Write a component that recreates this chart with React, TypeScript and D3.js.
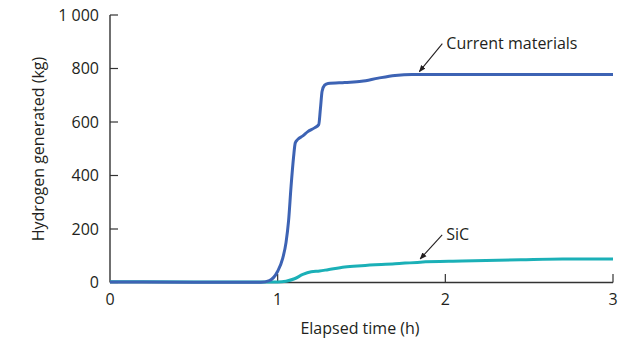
import React from "react";
import { scaleLinear, line, curveMonotoneX } from "d3";

const currentT = [0, 0.5, 0.9, 0.95, 1.0, 1.03, 1.05, 1.065, 1.08, 1.095, 1.105, 1.12, 1.15, 1.18, 1.22, 1.245, 1.255, 1.265, 1.28, 1.3, 1.4, 1.5, 1.6, 1.7, 1.8, 2.0, 2.5, 3.0];
const currentV = [2, 1, 1, 7, 42, 90, 150, 230, 360, 470, 522, 535, 548, 564, 578, 590, 650, 715, 738, 744, 748, 752, 764, 774, 778, 778, 778, 778];

const sicT = [0, 0.5, 1.0, 1.05, 1.1, 1.15, 1.2, 1.25, 1.3, 1.4, 1.5, 1.7, 1.85, 2.1, 2.45, 2.7, 3.0];
const sicV = [3, 2, 2, 5, 14, 30, 40, 43, 48, 58, 63, 70, 76, 80, 85, 88, 88];

const xTicks = [0, 1, 2, 3];
const yTicks = [0, 200, 400, 600, 800, 1000];
const yTickLabels = ["0", "200", "400", "600", "800", "1 000"];

// arrow tip sits on the curve at (t, v); tail is offset in pixels
const labels = [
  { text: "Current materials", t: 1.845, v: 788, dx: 23, dy: -28 },
  { text: "SiC", t: 1.85, v: 88, dx: 22, dy: -24 },
];

const W = 637;
const H = 340;
const margin = { left: 110, right: 24, top: 15, bottom: 57.5 };
const font = "'Open Sans', sans-serif";
const ink = "#231f20";

export default function App() {
  const x = scaleLinear().domain([0, 3]).range([margin.left, W - margin.right]);
  const y = scaleLinear().domain([0, 1000]).range([H - margin.bottom, margin.top]);
  const mk = (ts: number[], vs: number[]) =>
    line<number>()
      .x((t) => x(t))
      .y((_, i) => y(vs[i]))
      .curve(curveMonotoneX)(ts) || "";

  return (
    <svg width={W} height={H} style={{ position: "absolute", left: 0, top: 0 }} fontFamily={font}>
      <defs>
        <marker id="ah" viewBox="0 0 10 10" refX="9" refY="5" markerWidth="7" markerHeight="7" orient="auto" markerUnits="userSpaceOnUse">
          <path d="M0,1 L10,5 L0,9 Z" fill={ink} />
        </marker>
      </defs>
      {/* axes */}
      <line x1={x(0)} x2={x(0)} y1={y(1000)} y2={y(0)} stroke="#333" strokeWidth={1.4} />
      <line x1={x(0)} x2={x(3)} y1={y(0)} y2={y(0)} stroke="#333" strokeWidth={1.4} />
      {yTicks.map((v, i) => (
        <g key={v}>
          <line x1={x(0)} x2={x(0) + 8} y1={y(v)} y2={y(v)} stroke="#333" strokeWidth={1.2} />
          <text x={x(0) - 11} y={y(v)} dy="0.36em" textAnchor="end" fontSize={16} fill={ink}>
            {yTickLabels[i]}
          </text>
        </g>
      ))}
      {xTicks.map((t) => (
        <g key={t}>
          {t > 0 && <line x1={x(t)} x2={x(t)} y1={y(0)} y2={y(0) - 8.5} stroke="#333" strokeWidth={1.2} />}
          <text x={x(t)} y={305} textAnchor="middle" fontSize={16} fill={ink}>
            {t}
          </text>
        </g>
      ))}
      <text x={360} y={334} textAnchor="middle" fontSize={16} fill={ink}>
        Elapsed time (h)
      </text>
      <text transform={`translate(43.5,149) rotate(-90)`} textAnchor="middle" fontSize={16} fill={ink}>
        Hydrogen generated (kg)
      </text>
      {/* series */}
      <path d={mk(sicT, sicV)} fill="none" stroke="#1bb0b7" strokeWidth={3} />
      <path d={mk(currentT, currentV)} fill="none" stroke="#3d63b4" strokeWidth={3} />
      {/* annotations */}
      {labels.map((l) => (
        <g key={l.text}>
          <line x1={x(l.t) + l.dx} y1={y(l.v) + l.dy} x2={x(l.t)} y2={y(l.v)} stroke={ink} strokeWidth={1.1} markerEnd="url(#ah)" />
          <text x={x(l.t) + l.dx + 4} y={y(l.v) + l.dy + 5} fontSize={16} fill={ink}>
            {l.text}
          </text>
        </g>
      ))}
    </svg>
  );
}
